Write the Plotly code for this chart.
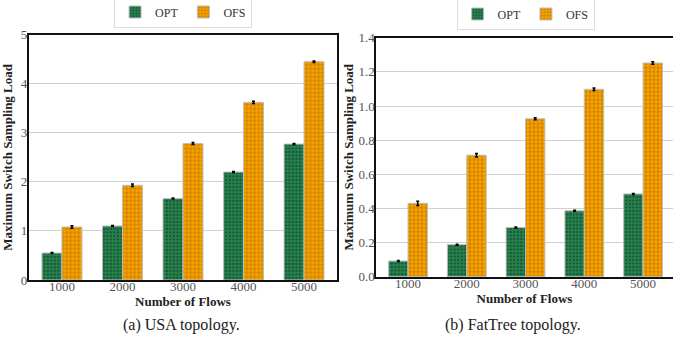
import plotly.graph_objects as go

categories = ["1000", "2000", "3000", "4000", "5000"]

usa_opt = [0.55, 1.10, 1.66, 2.20, 2.77]
usa_ofs = [1.08, 1.93, 2.78, 3.62, 4.45]
usa_opt_err = [0.01, 0.01, 0.01, 0.01, 0.01]
usa_ofs_err = [0.025, 0.025, 0.02, 0.025, 0.015]

ft_opt = [0.092, 0.188, 0.288, 0.386, 0.485]
ft_ofs = [0.43, 0.712, 0.925, 1.098, 1.252]
ft_opt_err = [0.003, 0.003, 0.003, 0.003, 0.003]
ft_ofs_err = [0.013, 0.01, 0.006, 0.007, 0.007]

series_names = ["OPT", "OFS"]
y_ticks_usa = [0, 1, 2, 3, 4, 5]
y_ticks_ft = [0.0, 0.2, 0.4, 0.6, 0.8, 1.0, 1.2, 1.4]

GREEN = "#26824f"
ORANGE = "#ffa500"
SERIF = "Liberation Serif"

opt_marker = dict(color=GREEN, line=dict(color="#bdbdbd", width=1),
                  pattern=dict(shape=".", fgcolor="#0b2414", size=3.5, solidity=0.35))
ofs_marker = dict(color=ORANGE, line=dict(color="#bdbdbd", width=1),
                  pattern=dict(shape="+", fgcolor="#5a3600", size=4, solidity=0.3))

def err(arr):
    return dict(type="data", array=arr, color="black", thickness=1.5, width=1.5)

fig = go.Figure()
fig.add_trace(go.Bar(x=categories, y=usa_opt, name=series_names[0], marker=opt_marker,
                     error_y=err(usa_opt_err), xaxis="x", yaxis="y", legend="legend"))
fig.add_trace(go.Bar(x=categories, y=usa_ofs, name=series_names[1], marker=ofs_marker,
                     error_y=err(usa_ofs_err), xaxis="x", yaxis="y", legend="legend"))
fig.add_trace(go.Bar(x=categories, y=ft_opt, name=series_names[0], marker=opt_marker,
                     error_y=err(ft_opt_err), xaxis="x2", yaxis="y2", legend="legend2"))
fig.add_trace(go.Bar(x=categories, y=ft_ofs, name=series_names[1], marker=ofs_marker,
                     error_y=err(ft_ofs_err), xaxis="x2", yaxis="y2", legend="legend2"))

tickfont = dict(family=SERIF, size=13, color="#555555")
titlefont = dict(family=SERIF, size=13, color="#222222", weight="bold")
ytitle = "<b>Maximum Switch Sampling Load</b>"

xcommon = dict(type="category", showgrid=False, showline=True, linecolor="#111111",
               linewidth=1.5, mirror=True, ticks="", tickfont=tickfont,
               ticklabelstandoff=-6, automargin=False,
               title=dict(text="<b>Number of Flows</b>", font=titlefont, standoff=0))
ycommon = dict(showgrid=True, gridcolor="#d0d0d0", gridwidth=1, showline=True,
               linecolor="#111111", linewidth=1.5, ticks="", tickfont=tickfont,
               zeroline=False, automargin=True, ticklabelstandoff=-3)

legend_common = dict(orientation="h", bordercolor="#dddddd", borderwidth=1, bgcolor="white",
                     font=dict(family=SERIF, size=12, color="#333333"), tracegroupgap=0,
                     yanchor="middle", xanchor="center")

fig.update_layout(
    width=673, height=340,
    margin=dict(l=0, r=0, t=0, b=0, autoexpand=False),
    paper_bgcolor="white", plot_bgcolor="white",
    barmode="group", bargap=0.34, bargroupgap=0.0,
    xaxis=dict(xcommon, domain=[0.0426, 0.5012], range=[-0.55, 4.55], anchor="y"),
    yaxis=dict(ycommon, domain=[0.1765, 0.898], range=[0, 5], tickvals=y_ticks_usa,
               anchor="x", mirror=True,
               title=dict(text=ytitle, font=titlefont, standoff=5)),
    xaxis2=dict(xcommon, domain=[0.5587, 1.0], range=[-0.545, 4.51], anchor="y2"),
    yaxis2=dict(ycommon, domain=[0.186, 0.889], range=[0, 1.4], tickvals=y_ticks_ft,
                tickformat=".1f", anchor="x2", mirror=False,
                title=dict(text=ytitle, font=titlefont, standoff=2)),
    legend=dict(legend_common, x=0.272, y=1 - 12 / 340),
    legend2=dict(legend_common, x=0.781, y=1 - 14 / 340),
    annotations=[
        dict(text="(a) USA topology.", x=0.27, y=15 / 340, xref="paper", yref="paper",
             xanchor="center", yanchor="middle", showarrow=False,
             font=dict(family=SERIF, size=16, color="#222222")),
        dict(text="(b) FatTree topology.", x=0.763, y=15 / 340, xref="paper", yref="paper",
             xanchor="center", yanchor="middle", showarrow=False,
             font=dict(family=SERIF, size=16, color="#222222")),
    ],
    showlegend=True,
)

fig.write_html("out.html", config={"displayModeBar": False},
               post_script="document.body.style.margin='0';document.body.style.padding='0';")
